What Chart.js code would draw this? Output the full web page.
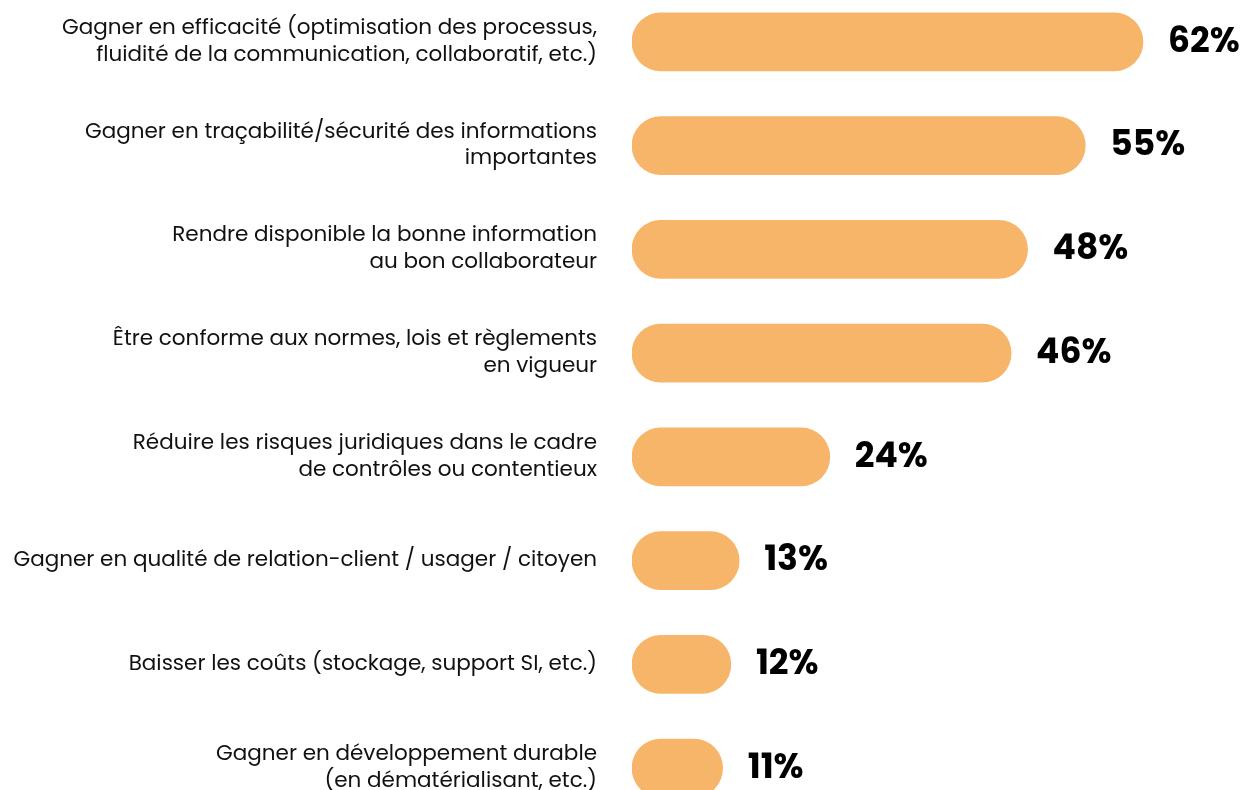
<!DOCTYPE html>
<html>
<head>
<meta charset="utf-8">
<script src="https://cdn.jsdelivr.net/npm/chart.js@4/dist/chart.umd.min.js"></script>
<style>
    html, body { margin: 0; padding: 0; background: #fff; overflow: hidden; }
    body { width: 1246px; height: 790px; position: relative; }
    .chart-box { position: absolute; left: 0; top: -10px; width: 1246px; height: 830px; }
</style>
</head>
<body>
<div class="chart-box"><canvas id="barChart"></canvas></div>
<script>
// Data
const categories = [
    ['Gagner en efficacité (optimisation des processus,', 'fluidité de la communication, collaboratif, etc.)'],
    ['Gagner en traçabilité/sécurité des informations', 'importantes'],
    ['Rendre disponible la bonne information', 'au bon collaborateur'],
    ['Être conforme aux normes, lois et règlements', 'en vigueur'],
    ['Réduire les risques juridiques dans le cadre', 'de contrôles ou contentieux'],
    'Gagner en qualité de relation-client / usager / citoyen',
    'Baisser les coûts (stockage, support SI, etc.)',
    ['Gagner en développement durable', '(en dématérialisant, etc.)']
];
const values = [62, 55, 48, 46, 24, 13, 12, 11];
const valueLabels = ['62%', '55%', '48%', '46%', '24%', '13%', '12%', '11%'];

const barColor = '#F7B56A';

// Draws the bold percentage next to each bar end
const valueLabelPlugin = {
    id: 'valueLabels',
    afterDatasetsDraw(chart) {
        const ctx = chart.ctx;
        const meta = chart.getDatasetMeta(0);
        ctx.save();
        ctx.font = '700 34.5px Poppins, Inter, sans-serif';
        ctx.fillStyle = '#000';
        ctx.textAlign = 'left';
        ctx.textBaseline = 'middle';
        meta.data.forEach(function(bar, i) {
            ctx.fillText(valueLabels[i], bar.x + 25, bar.y + 1);
        });
        ctx.restore();
    }
};

document.addEventListener('DOMContentLoaded', function() {
    initBarChart();
});

function initBarChart() {
    const ctx = document.getElementById('barChart').getContext('2d');
    new Chart(ctx, {
        type: 'bar',
        data: {
            labels: categories,
            datasets: [{
                data: values,
                backgroundColor: barColor,
                borderWidth: 0,
                borderRadius: 30,
                borderSkipped: false,
                barThickness: 58
            }]
        },
        options: {
            indexAxis: 'y',
            responsive: true,
            maintainAspectRatio: false,
            animation: false,
            layout: { padding: 0 },
            plugins: {
                legend: { display: false },
                tooltip: { enabled: false }
            },
            scales: {
                x: {
                    display: false,
                    min: 0,
                    max: 74.5
                },
                y: {
                    grid: { display: false, drawTicks: false },
                    border: { display: false },
                    afterFit: function(scale) {
                        scale.width = 632;
                        scale.paddingTop = 0;
                        scale.paddingBottom = 0;
                    },
                    ticks: {
                        padding: 35,
                        color: '#111',
                        font: { family: 'Poppins, "Open Sans", sans-serif', size: 21.5, lineHeight: 1.25 }
                    }
                }
            }
        },
        plugins: [valueLabelPlugin]
    });
}
</script>
</body>
</html>
